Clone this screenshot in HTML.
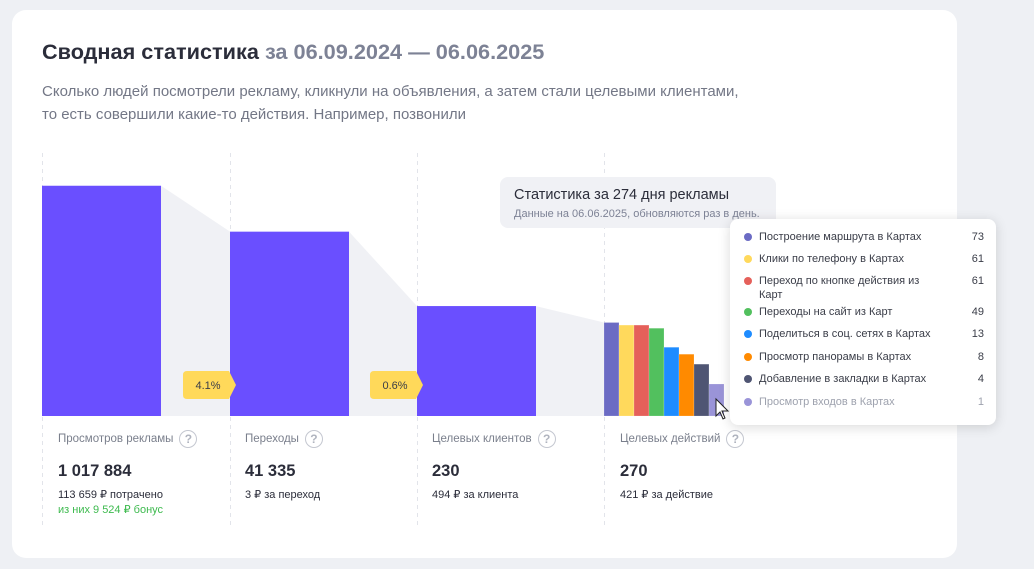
<!DOCTYPE html>
<html><head><meta charset="utf-8"><style>
body{margin:0;width:1034px;height:569px;background:#eef0f4;font-family:"Liberation Sans",sans-serif;overflow:hidden;position:relative}
.card{position:absolute;left:12px;top:10px;width:945px;height:548px;background:#fff;border-radius:14px}
.abs{position:absolute;white-space:nowrap}
.title{left:42px;top:39px;font-size:21.7px;font-weight:bold;color:#2b2d3a}
.title span{color:#7d8295}
.sub{left:42px;top:80px;font-size:15px;color:#737786;line-height:23px}
.lbl{font-size:11.5px;color:#7a7f8c}
.q{display:inline-block;width:16px;height:16px;border:1.5px solid #c4c7d0;border-radius:50%;color:#b0b4bf;font-size:12px;text-align:center;line-height:16px;vertical-align:middle;margin-left:6px;font-weight:bold}
.num{font-size:16.5px;font-weight:bold;color:#2b2d3a}
.s{font-size:11px;color:#2b2d3a}
.tip{left:730px;top:219px;width:266px;height:206px;background:#fff;border-radius:8px;box-shadow:0 2px 12px rgba(0,0,0,.15)}
.row{position:absolute;left:14px;font-size:11px;color:#3a3d48;width:240px;line-height:14px}
.row i{position:absolute;left:0;top:3px;width:8px;height:8px;border-radius:50%}
.row .t{position:absolute;left:15px;width:180px;white-space:normal}
.row .v{position:absolute;right:0}
</style></head><body>
<div class="card"></div>
<div class="abs title">Сводная статистика <span>за 06.09.2024 — 06.06.2025</span></div>
<div class="abs sub">Сколько людей посмотрели рекламу, кликнули на объявления, а затем стали целевыми клиентами,<br>то есть совершили какие-то действия. Например, позвонили</div>
<svg class="abs" style="left:0;top:0" width="1034" height="569" id="chart"></svg>
<div class="abs" style="left:500px;top:177px;width:276px;height:51px;background:#f0f1f5;border-radius:8px">
<div class="abs" style="left:14px;top:10px;font-size:14.5px;color:#2b2d3a">Статистика за 274 дня рекламы</div>
<div class="abs" style="left:14px;top:31px;font-size:11px;color:#7d8295">Данные на 06.06.2025, обновляются раз в день.</div></div>
<div class="abs lbl" style="left:58px;top:430px">Просмотров рекламы<span class="q">?</span></div>
<div class="abs lbl" style="left:245px;top:430px">Переходы<span class="q">?</span></div>
<div class="abs lbl" style="left:432px;top:430px">Целевых клиентов<span class="q">?</span></div>
<div class="abs lbl" style="left:620px;top:430px">Целевых действий<span class="q">?</span></div>
<div class="abs num" style="left:58px;top:462px">1 017 884</div>
<div class="abs num" style="left:245px;top:462px">41 335</div>
<div class="abs num" style="left:432px;top:462px">230</div>
<div class="abs num" style="left:620px;top:462px">270</div>
<div class="abs s" style="left:58px;top:488px">113 659 ₽ потрачено</div>
<div class="abs s" style="left:58px;top:503px;color:#3dba4e">из них 9 524 ₽ бонус</div>
<div class="abs s" style="left:245px;top:488px">3 ₽ за переход</div>
<div class="abs s" style="left:432px;top:488px">494 ₽ за клиента</div>
<div class="abs s" style="left:620px;top:488px">421 ₽ за действие</div>
<div class="abs tip" id="tip"></div>
<script>
const stages=["Просмотров рекламы","Переходы","Целевых клиентов"];
const stageValues=[1017884,41335,230];
const conversions=["4.1%","0.6%"];
const actionNames=["Построение маршрута в Картах","Клики по телефону в Картах","Переход по кнопке действия из Карт","Переходы на сайт из Карт","Поделиться в соц. сетях в Картах","Просмотр панорамы в Картах","Добавление в закладки в Картах","Просмотр входов в Картах"];
const actionValues=[73,61,61,49,13,8,4,1];
const actionColors=["#6b6bc4","#ffd95c","#e5605a","#52c05e","#1e8cff","#ff8a00","#4f5573","#9a94d8"];
const NS="http://www.w3.org/2000/svg",svg=document.getElementById('chart');
const base=416;
function h(v){return 33*Math.log10(v)+32;}
const colX=[42,230,417,604],bw=119;
function mk(t,a){const e=document.createElementNS(NS,t);for(const k in a)e.setAttribute(k,a[k]);svg.appendChild(e);return e;}
colX.forEach(x=>{const l=mk('line',{x1:x+0.5,y1:153,x2:x+0.5,y2:525,stroke:'#e2e4ea','stroke-dasharray':'4 4'});

});
stageValues.forEach((v,i)=>{
 const x=colX[i],y=base-h(v);
 const nx=colX[i+1],ny=i<2?base-h(stageValues[i+1]):base-h(actionValues[0]);
 const p=mk('polygon',{points:`${x+bw},${y} ${nx},${ny} ${nx},${base} ${x+bw},${base}`,fill:'#f0f1f5'});
 
 
 const r=mk('rect',{x:x,y:y,width:bw,height:h(v),fill:'#6a4fff'});
 
 
});
conversions.forEach((c,i)=>{
 const x=[183,370][i];
 const g=mk('g',{});
 
 
 const p=document.createElementNS(NS,'path');p.setAttribute('d',`M${x+4},371 H${x+46} L${x+53},385 L${x+46},399 H${x+4} Q${x},399 ${x},395 V375 Q${x},371 ${x+4},371Z`);p.setAttribute('fill','#ffd95a');g.appendChild(p);
 const t=document.createElementNS(NS,'text');t.setAttribute('x',x+25);t.setAttribute('y',389);t.setAttribute('text-anchor','middle');t.setAttribute('font-size','11');t.setAttribute('fill','#3a3d48');t.textContent=c;g.appendChild(t);
});
actionValues.forEach((v,i)=>{
 const r=mk('rect',{x:604+i*15,y:base-h(v),width:15,height:h(v),fill:actionColors[i],stroke:'rgba(255,255,255,.35)','stroke-width':0.5});
 
 
});
const cur=mk('path',{d:'M716,399 L716,416 L720,412 L723,419 L725,418 L722,411 L728,411 Z',fill:'#fff',stroke:'#222','stroke-width':1});


const tip=document.getElementById('tip');
const rowY=[11,33,55,86,108,131,153,176];
actionNames.forEach((n,i)=>{
 const d=document.createElement('div');d.className='row';d.style.top=rowY[i]+'px';
 
 
 if(i==7)d.style.color='#9ea2ae';
 d.innerHTML=`<i style="background:${actionColors[i]}"></i><span class="t">${n}</span><span class="v">${actionValues[i]}</span>`;
 tip.appendChild(d);
});
</script>
</body></html>
